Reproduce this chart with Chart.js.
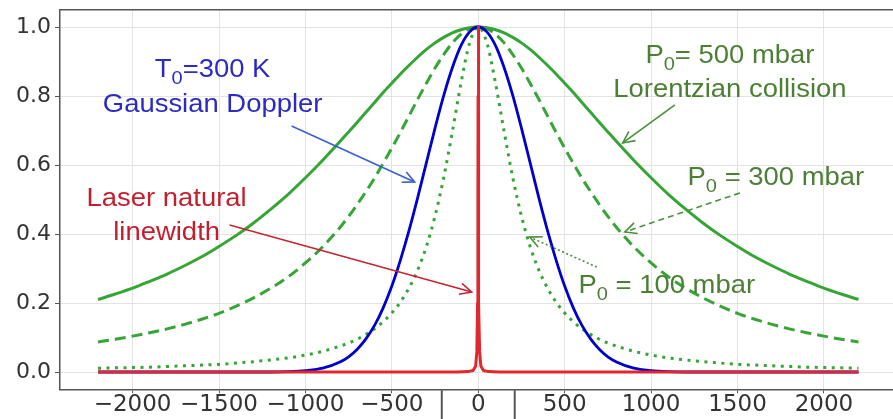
<!DOCTYPE html>
<html>
<head>
<meta charset="utf-8">
<script src="https://cdn.jsdelivr.net/npm/chart.js@4.4.1/dist/chart.umd.min.js"></script>
<style>
  html, body { margin: 0; padding: 0; background: #fff; overflow: hidden; }
  #wrap { width: 900px; height: 419px; }
</style>
</head>
<body>
<div id="wrap"><canvas id="chart" width="900" height="419"></canvas></div>
<script>
// detuning (MHz-ish units as on the axis)
var xs = [-2200, -2100, -2000, -1900, -1800, -1700, -1600, -1500, -1400, -1300, -1200, -1100, -1000, -900,
    -800, -750, -700, -650, -600, -550, -500, -450, -400, -350, -300, -250, -200, -150, -100, -50,
    0,
    50, 100, 150, 200, 250, 300, 350, 400, 450, 500, 550, 600, 650, 700, 750, 800,
    900, 1000, 1100, 1200, 1300, 1400, 1500, 1600, 1700, 1800, 1900, 2000, 2100, 2200];

var p500 = [0.210, 0.226, 0.243, 0.263, 0.284, 0.308, 0.334, 0.364, 0.396, 0.432, 0.472, 0.515, 0.563, 0.614,
    0.668, 0.696, 0.724, 0.753, 0.781, 0.810, 0.837, 0.864, 0.889, 0.913, 0.935, 0.954, 0.970, 0.983, 0.992, 0.998,
    1.000,
    0.998, 0.992, 0.983, 0.970, 0.954, 0.935, 0.913, 0.889, 0.864, 0.837, 0.810, 0.781, 0.753, 0.724, 0.696, 0.668,
    0.614, 0.563, 0.515, 0.472, 0.432, 0.396, 0.364, 0.334, 0.308, 0.284, 0.263, 0.243, 0.226, 0.210];

var p300 = [0.087, 0.095, 0.104, 0.114, 0.125, 0.138, 0.153, 0.170, 0.191, 0.215, 0.243, 0.276, 0.316, 0.363,
    0.419, 0.451, 0.486, 0.523, 0.562, 0.605, 0.649, 0.695, 0.743, 0.791, 0.837, 0.881, 0.920, 0.954, 0.979, 0.995,
    1.000,
    0.995, 0.979, 0.954, 0.920, 0.881, 0.837, 0.791, 0.743, 0.695, 0.649, 0.605, 0.562, 0.523, 0.486, 0.451, 0.419,
    0.363, 0.316, 0.276, 0.243, 0.215, 0.191, 0.170, 0.153, 0.138, 0.125, 0.114, 0.104, 0.095, 0.087];

var p100 = [0.011, 0.012, 0.013, 0.014, 0.016, 0.018, 0.020, 0.022, 0.026, 0.030, 0.035, 0.041, 0.049, 0.060,
    0.075, 0.084, 0.095, 0.109, 0.125, 0.146, 0.171, 0.203, 0.244, 0.296, 0.364, 0.452, 0.563, 0.696, 0.837, 0.954,
    1.000,
    0.954, 0.837, 0.696, 0.563, 0.452, 0.364, 0.296, 0.244, 0.203, 0.171, 0.146, 0.125, 0.109, 0.095, 0.084, 0.075,
    0.060, 0.049, 0.041, 0.035, 0.030, 0.026, 0.022, 0.020, 0.018, 0.016, 0.014, 0.013, 0.012, 0.011];

var doppler = [0, 0, 0, 0, 0, 0, 0, 0, 0, 0, 0, 0.001, 0.004, 0.011,
    0.029, 0.044, 0.066, 0.096, 0.135, 0.186, 0.249, 0.325, 0.411, 0.506, 0.607, 0.707, 0.801, 0.882, 0.946, 0.986,
    1.000,
    0.986, 0.946, 0.882, 0.801, 0.707, 0.607, 0.506, 0.411, 0.325, 0.249, 0.186, 0.135, 0.096, 0.066, 0.044, 0.029,
    0.011, 0.004, 0.001, 0, 0, 0, 0, 0, 0, 0, 0, 0, 0, 0];

var laserX = [-2200, -1000, -500, -250, -120, -60, -30, -15, -8, -4, -2, -1, 0, 1, 2, 4, 8, 15, 30, 60, 120, 250, 500, 1000, 2200];
var laserY = [0, 0, 0, 0.0001, 0.0003, 0.0011, 0.0044, 0.0175, 0.059, 0.2, 0.5, 0.8, 1, 0.8, 0.5, 0.2, 0.059, 0.0175, 0.0044, 0.0011, 0.0003, 0.0001, 0, 0, 0];

var xTicks = [-2000, -1500, -1000, -500, 0, 500, 1000, 1500, 2000];
var yTicks = [0.0, 0.2, 0.4, 0.6, 0.8, 1.0];

var GREEN = '#35a535';

function pts(x, y) {
    return x.map(function (v, i) { return { x: v, y: y[i] }; });
}

////////// annotations (labels + arrows)
function arrow(ctx, x1, y1, x2, y2, color, dash) {
    ctx.save();
    ctx.strokeStyle = color;
    ctx.lineWidth = 1.6;
    ctx.setLineDash(dash || []);
    ctx.beginPath();
    ctx.moveTo(x1, y1);
    ctx.lineTo(x2, y2);
    ctx.stroke();
    ctx.setLineDash([]);
    var a = Math.atan2(y2 - y1, x2 - x1);
    var len = 13, spread = 0.45;
    ctx.beginPath();
    ctx.moveTo(x2 - len * Math.cos(a - spread), y2 - len * Math.sin(a - spread));
    ctx.lineTo(x2, y2);
    ctx.lineTo(x2 - len * Math.cos(a + spread), y2 - len * Math.sin(a + spread));
    ctx.stroke();
    ctx.restore();
}

// parts: [text, isSubscript]; text is a bit wide in the original, so stretch it
function label(ctx, cx, by, parts, color) {
    var main = '26px "Liberation Sans", Arial, sans-serif';
    var sub = '19px "Liberation Sans", Arial, sans-serif';
    var sx = 1.055;
    ctx.save();
    ctx.fillStyle = color;
    ctx.textBaseline = 'alphabetic';
    ctx.textAlign = 'left';
    var w = 0;
    parts.forEach(function (p) {
        ctx.font = p[1] ? sub : main;
        w += ctx.measureText(p[0]).width;
    });
    ctx.translate(cx - w * sx / 2, by);
    ctx.scale(sx, 1);
    var x = 0;
    parts.forEach(function (p) {
        ctx.font = p[1] ? sub : main;
        ctx.fillText(p[0], x, p[1] ? 7 : 0);
        x += ctx.measureText(p[0]).width;
    });
    ctx.restore();
}

var annotations = {
    id: 'annotations',
    afterDatasetsDraw: function (chart) {
        var ctx = chart.ctx;
        var xs_ = chart.scales.x, ys_ = chart.scales.y;
        var X = function (v) { return xs_.getPixelForValue(v); };
        var Y = function (v) { return ys_.getPixelForValue(v); };
        var area = chart.chartArea;

        // top spine
        ctx.save();
        ctx.strokeStyle = '#555';
        ctx.lineWidth = 1.5;
        ctx.beginPath();
        ctx.moveTo(area.left, area.top);
        ctx.lineTo(area.right, area.top);
        ctx.stroke();
        // the two bars under the axis around zero
        ctx.lineWidth = 2;
        [-211, 211].forEach(function (v) {
            ctx.beginPath();
            ctx.moveTo(X(v), area.bottom + 1);
            ctx.lineTo(X(v), chart.height);
            ctx.stroke();
        });
        ctx.restore();

        arrow(ctx, X(-1080), Y(0.713), X(-368), Y(0.551), '#3a5fd0');
        arrow(ctx, X(-1439), Y(0.426), X(-38), Y(0.232), '#c62432');
        arrow(ctx, X(1138), Y(0.774), X(836), Y(0.664), '#4a8f3a');
        arrow(ctx, X(1514), Y(0.519), X(848), Y(0.406), '#4a8f3a', [6, 4]);
        arrow(ctx, X(686), Y(0.304), X(298), Y(0.391), '#4a8f3a', [2, 2.5]);

        var blue = '#2b2bc4', red = '#c21f2e', green = '#4b7f34';
        label(ctx, X(-1537), Y(0.855), [['T', 0], ['0', 1], ['=300 K', 0]], blue);
        label(ctx, X(-1537), Y(0.754), [['Gaussian Doppler', 0]], blue);
        label(ctx, X(-1803), Y(0.481), [['Laser natural', 0]], red);
        label(ctx, X(-1803), Y(0.383), [['linewidth', 0]], red);
        label(ctx, X(1456), Y(0.896), [['P', 0], ['0', 1], ['= 500 mbar', 0]], green);
        label(ctx, X(1456), Y(0.797), [['Lorentzian collision', 0]], green);
        label(ctx, X(1722), Y(0.542), [['P', 0], ['0', 1], [' = 300 mbar', 0]], green);
        label(ctx, X(1091), Y(0.229), [['P', 0], ['0', 1], [' = 100 mbar', 0]], green);
    }
};

var chart = new Chart(document.getElementById('chart'), {
    type: 'line',
    plugins: [annotations],
    data: {
        datasets: [
            {
                label: 'Laser natural linewidth',
                data: pts(laserX, laserY),
                borderColor: '#e0282e',
                borderWidth: 3,
                borderJoinStyle: 'round',
                tension: 0
            },
            {
                label: 'Gaussian Doppler',
                data: pts(xs, doppler),
                borderColor: '#0000cc',
                borderWidth: 2.8,
                cubicInterpolationMode: 'monotone'
            },
            {
                label: 'P0 = 100 mbar',
                data: pts(xs, p100),
                borderColor: GREEN,
                borderWidth: 3,
                borderDash: [3, 5.5],
                cubicInterpolationMode: 'monotone'
            },
            {
                label: 'P0 = 300 mbar',
                data: pts(xs, p300),
                borderColor: GREEN,
                borderWidth: 3,
                borderDash: [11, 6],
                cubicInterpolationMode: 'monotone'
            },
            {
                label: 'P0 = 500 mbar',
                data: pts(xs, p500),
                borderColor: GREEN,
                borderWidth: 3,
                cubicInterpolationMode: 'monotone'
            }
        ]
    },
    options: {
        responsive: false,
        animation: false,
        layout: { padding: { top: 9.75, right: 3.5, left: 0, bottom: 0 } },
        elements: { point: { radius: 0 } },
        plugins: { legend: { display: false }, tooltip: { enabled: false } },
        scales: {
            x: {
                type: 'linear',
                min: -2420,
                max: 2420,
                afterBuildTicks: function (scale) {
                    scale.ticks = xTicks.map(function (v) { return { value: v }; });
                },
                afterFit: function (scale) {
                    scale.height = 29.75;
                    scale.paddingLeft = 0;
                    scale.paddingRight = 0;
                },
                ticks: {
                    font: { family: 'DejaVu Sans', size: 23 },
                    color: '#333',
                    padding: -2,
                    maxRotation: 0,
                    autoSkip: false,
                    callback: function (v) { return String(v).replace('-', '\u2212'); }
                },
                grid: { color: '#e3e3e3', tickColor: '#555', tickLength: 4, lineWidth: 1 },
                border: { color: '#555', width: 1.5 }
            },
            y: {
                min: -0.05,
                max: 1.05,
                afterBuildTicks: function (scale) {
                    scale.ticks = yTicks.map(function (v) { return { value: v }; });
                },
                afterFit: function (scale) {
                    scale.width = 60;
                    scale.paddingTop = 0;
                    scale.paddingBottom = 0;
                },
                ticks: {
                    font: { family: 'DejaVu Sans', size: 22 },
                    color: '#333',
                    padding: 4,
                    callback: function (v) { return v.toFixed(1); }
                },
                grid: { color: '#e3e3e3', tickColor: '#555', tickLength: 5, lineWidth: 1 },
                border: { color: '#555', width: 1.5 }
            }
        }
    }
});
</script>
</body>
</html>
